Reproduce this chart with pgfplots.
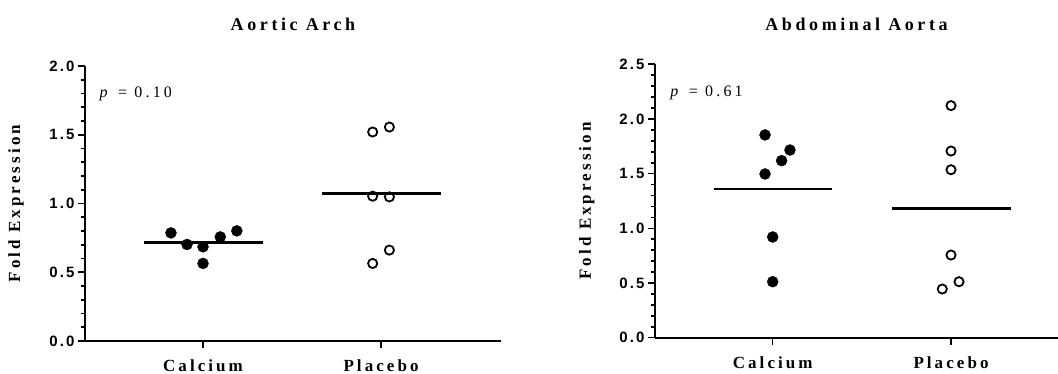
\documentclass[border=0pt]{standalone}
\usepackage{fontspec}
\setmainfont{Liberation Serif}
\newfontfamily\labfont[LetterSpace=18, BoldFont={Liberation Serif Bold}]{Liberation Serif}
\newfontfamily\titfont[LetterSpace=20, BoldFont={Liberation Serif Bold}]{Liberation Serif}
\newfontfamily\tickfont[LetterSpace=14, BoldFont={Liberation Sans Bold}]{Liberation Sans}
\newfontfamily\pfont[LetterSpace=20]{Liberation Serif}
\usepackage{pgfplots}
\usepackage{pgfplotstable}
\pgfplotsset{compat=1.18}

\pgfplotstableread{
x y
-0.18 0.786
-0.09 0.702
0 0.685
0 0.564
0.097 0.757
0.19 0.801
}\archCa
\pgfplotstableread{
x y
0.953 1.520
1.047 1.556
0.953 1.053
1.047 1.048
0.953 0.564
1.047 0.661
}\archPl
\pgfplotstableread{
x y
-0.043 1.854
0.097 1.716
0.05 1.619
-0.043 1.497
0 0.921
0 0.512
}\abdCa
\pgfplotstableread{
x y
1.0 2.122
1.0 1.707
1.0 1.536
1.0 0.756
1.045 0.512
0.951 0.445
}\abdPl

\pgfplotsset{
  fe/.style={
    scale only axis,
    axis x line=bottom, axis y line=left,
    axis line style={-, line width=2pt},
    every tick/.style={black, line width=1.6pt},
    tick align=outside,
    major tick length=7pt, minor tick length=4pt,
    xtick={0,1}, xticklabels={Calcium,Placebo},
    minor x tick num=0,
    minor y tick num=4,
    ymin=0,
    /pgf/number format/assume math mode=true,
    yticklabel style={font=\tickfont\bfseries\fontsize{15}{17}\selectfont},
    xticklabel style={font=\labfont\bfseries\fontsize{17}{19}\selectfont, yshift=-8pt},
    ylabel={Fold Expression},
    ylabel style={font=\labfont\bfseries\fontsize{17}{19}\selectfont, anchor=center},
    title style={font=\titfont\bfseries\fontsize{18}{20}\selectfont, at={(0.5,1)}, anchor=base},
    clip=false,
  },
  fill/.style={only marks, mark=*, mark size=5.5pt, mark options={fill=black, draw=black}},
  open/.style={only marks, mark=o, mark size=4.6pt, mark options={draw=black, line width=1.8pt}},
  mean/.style={black, line width=2.4pt, no marks},
}

\begin{document}
\begin{tikzpicture}
\useasboundingbox (0,0) rectangle (1058pt,374pt);
\begin{axis}[fe,
  at={(85pt,33pt)}, anchor=south west,
  width=416pt, height=275pt,
  xmin=-0.663, xmax=1.674,
  ymax=2.0, ytick={0,0.5,1,1.5,2},
  yticklabels={0.0,0.5,1.0,1.5,2.0},
  ylabel style={at={(axis description cs:-0.166,0.5)}},
  title={Aortic Arch}, title style={yshift=29pt},
]
\addplot[fill] table[x=x,y=y] {\archCa};
\addplot[open] table[x=x,y=y] {\archPl};
\addplot[mean] coordinates {(-0.33,0.717) (0.335,0.717)};
\addplot[mean] coordinates {(0.67,1.073) (1.335,1.073)};
\node[anchor=west, font=\pfont\fontsize{16}{18}\selectfont] at (axis cs:-0.6,1.8) {\textit{p} = 0.10};
\end{axis}
\begin{axis}[fe,
  at={(655pt,36.3pt)}, anchor=south west,
  width=403pt, height=273.4pt,
  xmin=-0.66, xmax=1.6,
  ymax=2.5, ytick={0,0.5,1,1.5,2,2.5},
  yticklabels={0.0,0.5,1.0,1.5,2.0,2.5},
  ylabel style={at={(axis description cs:-0.169,0.5)}},
  title={Abdominal Aorta}, title style={yshift=27.5pt},
]
\addplot[fill] table[x=x,y=y] {\abdCa};
\addplot[open] table[x=x,y=y] {\abdPl};
\addplot[mean] coordinates {(-0.33,1.357) (0.335,1.357)};
\addplot[mean] coordinates {(0.67,1.183) (1.335,1.183)};
\node[anchor=west, font=\pfont\fontsize{16}{18}\selectfont] at (axis cs:-0.593,2.24) {\textit{p} = 0.61};
\end{axis}
\end{tikzpicture}
\end{document}
